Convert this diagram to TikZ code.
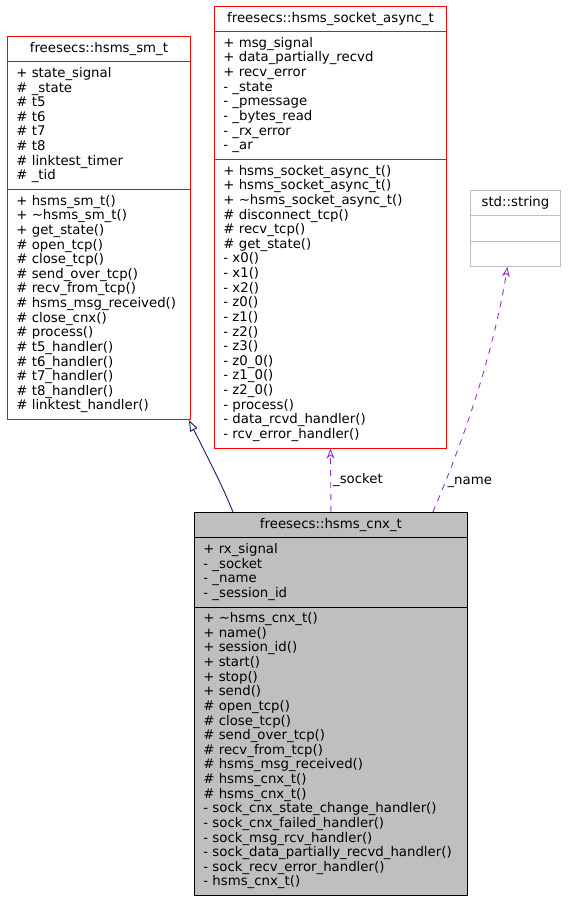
\documentclass[tikz,border=0pt]{standalone}
\usepackage{fontspec}
\setmainfont{DejaVu Sans}
\usepackage{tikz}
\usetikzlibrary{shapes.multipart, arrows.meta, calc}
\definecolor{clsred}{RGB}{255,0,0}
\definecolor{inherit}{RGB}{25,25,112}
\definecolor{usage}{RGB}{154,50,205}
\definecolor{clsgray}{RGB}{191,191,191}

\begin{document}
\begin{tikzpicture}[x=1pt, y=-1pt, line width=0.9pt,
  every node/.style={font=\fontsize{13.3}{14.63}\selectfont},
  cls/.style={rectangle split, rectangle split parts=3, rectangle split part align={center,left,left},
    align=left, draw, inner xsep=9pt, inner ysep=4.9pt, anchor=north west},
  usedby/.style={usage, dashed, dash pattern=on 6pt off 6pt, -{Stealth[open, length=10pt, width=8pt, inset=3pt]}}]

\useasboundingbox (0,0) rectangle (567,901);

\node (sm) [cls, draw=clsred, minimum width=183pt] at (7,36) {\strut freesecs::hsms\_sm\_t
\nodepart{two}\strut + state\_signal\\ \# \_state\\ \# t5\\ \# t6\\ \# t7\\ \# t8\\ \# linktest\_timer\\ \# \_tid\strut
\nodepart{three}\strut + hsms\_sm\_t()\\ + \textasciitilde hsms\_sm\_t()\\ + get\_state()\\ \# open\_tcp()\\ \# close\_tcp()\\
\# send\_over\_tcp()\\ \# recv\_from\_tcp()\\ \# hsms\_msg\_received()\\ \# close\_cnx()\\ \# process()\\
\# t5\_handler()\\ \# t6\_handler()\\ \# t7\_handler()\\ \# t8\_handler()\\ \# linktest\_handler()\strut};

\node (sock) [cls, draw=clsred, minimum width=232pt] at (214,6) {\strut freesecs::hsms\_socket\_async\_t
\nodepart{two}\strut + msg\_signal\\ + data\_partially\_recvd\\ + recv\_error\\ - \_state\\ - \_pmessage\\ - \_bytes\_read\\ - \_rx\_error\\ - \_ar\strut
\nodepart{three}\strut + hsms\_socket\_async\_t()\\ + hsms\_socket\_async\_t()\\ + \textasciitilde hsms\_socket\_async\_t()\\
\# disconnect\_tcp()\\ \# recv\_tcp()\\ \# get\_state()\\ - x0()\\ - x1()\\ - x2()\\ - z0()\\ - z1()\\ - z2()\\ - z3()\\
- z0\_0()\\ - z1\_0()\\ - z2\_0()\\ - process()\\ - data\_rcvd\_handler()\\ - rcv\_error\_handler()\strut};

\node (str) [cls, draw=clsgray, minimum width=90pt] at (470,190) {\strut std::string
\nodepart{two}\strut
\nodepart{three}\strut};

\node (cnx) [cls, fill=clsgray, minimum width=273pt] at (194,512) {\strut freesecs::hsms\_cnx\_t
\nodepart{two}\strut + rx\_signal\\ - \_socket\\ - \_name\\ - \_session\_id\strut
\nodepart{three}\strut + \textasciitilde hsms\_cnx\_t()\\ + name()\\ + session\_id()\\ + start()\\ + stop()\\ + send()\\
\# open\_tcp()\\ \# close\_tcp()\\ \# send\_over\_tcp()\\ \# recv\_from\_tcp()\\ \# hsms\_msg\_received()\\
\# hsms\_cnx\_t()\\ \# hsms\_cnx\_t()\\ - sock\_cnx\_state\_change\_handler()\\ - sock\_cnx\_failed\_handler()\\
- sock\_msg\_rcv\_handler()\\ - sock\_data\_partially\_recvd\_handler()\\ - sock\_recv\_error\_handler()\\ - hsms\_cnx\_t()\strut};

% inheritance
\draw[inherit, -{Triangle[open, length=11pt, width=8pt]}] ($(cnx.north west)+(39,0)$) .. controls (222,486) .. ($(sm.south east)+(-2,0)$);

% usage
\draw[usedby] (cnx.north) -- node[right, inner sep=2pt, text=black]{\_socket} (sock.south);
\draw[usedby] ($(cnx.north east)+(-35,0)$) .. controls (468,430) and (494,348) .. node[pos=0.12, right, inner sep=2pt, text=black]{\_name} ($(str.south)+(-8,0)$);
\end{tikzpicture}
\end{document}
